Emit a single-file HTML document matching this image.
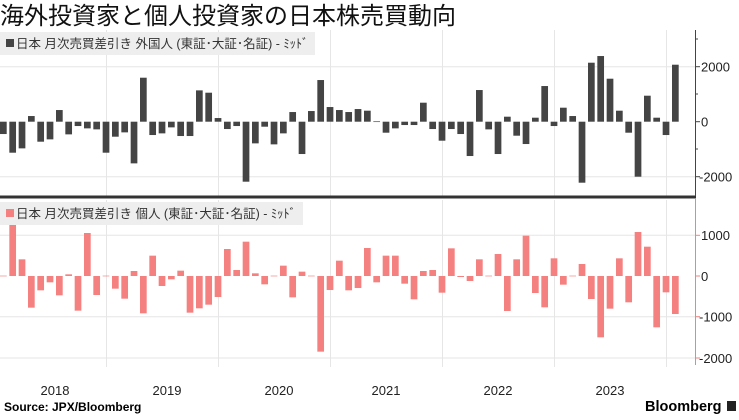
<!DOCTYPE html>
<html><head><meta charset="utf-8"><style>
body{margin:0;background:#fff;width:739px;height:415px;overflow:hidden}
svg text{font-family:"Liberation Sans","Noto Sans CJK JP",sans-serif}
</style></head><body>
<svg width="739" height="415" xmlns="http://www.w3.org/2000/svg">
<text x="0" y="24" font-size="24" fill="#111">海外投資家と個人投資家の日本株売買動向</text>
<g stroke="#e6e6e6" stroke-width="1">
<line x1="0" x2="695" y1="66.7" y2="66.7"/><line x1="0" x2="695" y1="176.7" y2="176.7"/>
<line x1="0" x2="695" y1="235.3" y2="235.3"/><line x1="0" x2="695" y1="316.7" y2="316.7"/><line x1="0" x2="695" y1="358" y2="358"/>
<line x1="106.5" x2="106.5" y1="30" y2="196"/><line x1="218.5" x2="218.5" y1="30" y2="196"/><line x1="330.5" x2="330.5" y1="30" y2="196"/><line x1="442.5" x2="442.5" y1="30" y2="196"/><line x1="554.5" x2="554.5" y1="30" y2="196"/><line x1="666.5" x2="666.5" y1="30" y2="196"/>
<line x1="106.5" x2="106.5" y1="200" y2="367"/><line x1="218.5" x2="218.5" y1="200" y2="367"/><line x1="330.5" x2="330.5" y1="200" y2="367"/><line x1="442.5" x2="442.5" y1="200" y2="367"/><line x1="554.5" x2="554.5" y1="200" y2="367"/><line x1="666.5" x2="666.5" y1="200" y2="367"/>
</g>
<rect x="0" y="32" width="315" height="23" fill="#eeeeee"/>
<rect x="6" y="39" width="8" height="8" fill="#444"/>
<text x="16" y="48" font-size="12.5" fill="#333">日本 月次売買差引き 外国人 (東証･大証･名証) - ﾐｯﾄﾞ</text>
<rect x="0" y="202" width="303" height="23" fill="#eeeeee"/>
<rect x="6" y="209" width="8" height="8" fill="#f48080"/>
<text x="16" y="218" font-size="12.5" fill="#333">日本 月次売買差引き 個人 (東証･大証･名証) - ﾐｯﾄﾞ</text>
<g fill="#444" transform="translate(0,121.7) scale(1,0.3333)">
<rect x="0" y="0" width="6.7" height="37"/>
<rect x="9.33" y="0" width="6.7" height="93"/>
<rect x="18.67" y="0" width="6.7" height="80"/>
<rect x="28" y="-17" width="6.7" height="17"/>
<rect x="37.33" y="0" width="6.7" height="60"/>
<rect x="46.67" y="0" width="6.7" height="53"/>
<rect x="56" y="-35" width="6.7" height="35"/>
<rect x="65.33" y="0" width="6.7" height="38"/>
<rect x="74.67" y="0" width="6.7" height="13"/>
<rect x="84" y="0" width="6.7" height="20"/>
<rect x="93.33" y="0" width="6.7" height="23"/>
<rect x="102.67" y="0" width="6.7" height="93"/>
<rect x="112" y="0" width="6.7" height="45"/>
<rect x="121.33" y="0" width="6.7" height="32"/>
<rect x="130.67" y="0" width="6.7" height="125"/>
<rect x="140" y="-132" width="6.7" height="132"/>
<rect x="149.33" y="0" width="6.7" height="40"/>
<rect x="158.67" y="0" width="6.7" height="35"/>
<rect x="168" y="0" width="6.7" height="17"/>
<rect x="177.33" y="0" width="6.7" height="43"/>
<rect x="186.67" y="0" width="6.7" height="43"/>
<rect x="196" y="-94" width="6.7" height="94"/>
<rect x="205.33" y="-87" width="6.7" height="87"/>
<rect x="214.67" y="-11" width="6.7" height="11"/>
<rect x="224" y="0" width="6.7" height="22"/>
<rect x="233.33" y="0" width="6.7" height="13"/>
<rect x="242.67" y="0" width="6.7" height="180"/>
<rect x="252" y="0" width="6.7" height="65"/>
<rect x="261.33" y="0" width="6.7" height="15"/>
<rect x="270.67" y="0" width="6.7" height="68"/>
<rect x="280" y="0" width="6.7" height="35"/>
<rect x="289.33" y="-29" width="6.7" height="29"/>
<rect x="298.67" y="0" width="6.7" height="97"/>
<rect x="308" y="-32" width="6.7" height="32"/>
<rect x="317.33" y="-125" width="6.7" height="125"/>
<rect x="326.67" y="-44" width="6.7" height="44"/>
<rect x="336" y="-35" width="6.7" height="35"/>
<rect x="345.33" y="-29" width="6.7" height="29"/>
<rect x="354.67" y="-38" width="6.7" height="38"/>
<rect x="364" y="-33" width="6.7" height="33"/>
<rect x="373.33" y="-1" width="6.7" height="2"/>
<rect x="382.67" y="0" width="6.7" height="33"/>
<rect x="392" y="0" width="6.7" height="20"/>
<rect x="401.33" y="0" width="6.7" height="10"/>
<rect x="410.67" y="0" width="6.7" height="10"/>
<rect x="420" y="-57" width="6.7" height="57"/>
<rect x="429.33" y="0" width="6.7" height="22"/>
<rect x="438.67" y="0" width="6.7" height="57"/>
<rect x="448" y="0" width="6.7" height="22"/>
<rect x="457.33" y="0" width="6.7" height="37"/>
<rect x="466.67" y="0" width="6.7" height="103"/>
<rect x="476" y="-95" width="6.7" height="95"/>
<rect x="485.33" y="0" width="6.7" height="23"/>
<rect x="494.67" y="0" width="6.7" height="97"/>
<rect x="504" y="-15" width="6.7" height="15"/>
<rect x="513.33" y="0" width="6.7" height="42"/>
<rect x="522.67" y="0" width="6.7" height="67"/>
<rect x="532" y="-12" width="6.7" height="12"/>
<rect x="541.33" y="-107" width="6.7" height="107"/>
<rect x="550.67" y="0" width="6.7" height="13"/>
<rect x="560" y="-42" width="6.7" height="42"/>
<rect x="569.33" y="-17" width="6.7" height="17"/>
<rect x="578.67" y="0" width="6.7" height="183"/>
<rect x="588" y="-177" width="6.7" height="177"/>
<rect x="597.33" y="-197" width="6.7" height="197"/>
<rect x="606.67" y="-129" width="6.7" height="129"/>
<rect x="616" y="-33" width="6.7" height="33"/>
<rect x="625.33" y="0" width="6.7" height="33"/>
<rect x="634.67" y="0" width="6.7" height="165"/>
<rect x="644" y="-78" width="6.7" height="78"/>
<rect x="653.33" y="-12" width="6.7" height="12"/>
<rect x="662.67" y="0" width="6.7" height="40"/>
<rect x="672" y="-171" width="6.7" height="171"/>
</g>
<g fill="#f48080" transform="translate(0,276) scale(1,0.3333)">
<rect x="0" y="-1" width="6.7" height="2"/>
<rect x="9.33" y="-153" width="6.7" height="153"/>
<rect x="18.67" y="-50" width="6.7" height="50"/>
<rect x="28" y="0" width="6.7" height="95"/>
<rect x="37.33" y="0" width="6.7" height="43"/>
<rect x="46.67" y="0" width="6.7" height="19"/>
<rect x="56" y="0" width="6.7" height="58"/>
<rect x="65.33" y="-5" width="6.7" height="5"/>
<rect x="74.67" y="0" width="6.7" height="104"/>
<rect x="84" y="-129" width="6.7" height="129"/>
<rect x="93.33" y="0" width="6.7" height="57"/>
<rect x="102.67" y="-1" width="6.7" height="2"/>
<rect x="112" y="0" width="6.7" height="38"/>
<rect x="121.33" y="0" width="6.7" height="68"/>
<rect x="130.67" y="-15" width="6.7" height="15"/>
<rect x="140" y="0" width="6.7" height="112"/>
<rect x="149.33" y="-61" width="6.7" height="61"/>
<rect x="158.67" y="0" width="6.7" height="30"/>
<rect x="168" y="0" width="6.7" height="10"/>
<rect x="177.33" y="-16" width="6.7" height="16"/>
<rect x="186.67" y="0" width="6.7" height="110"/>
<rect x="196" y="0" width="6.7" height="97"/>
<rect x="205.33" y="0" width="6.7" height="86"/>
<rect x="214.67" y="0" width="6.7" height="63"/>
<rect x="224" y="-81" width="6.7" height="81"/>
<rect x="233.33" y="-18" width="6.7" height="18"/>
<rect x="242.67" y="-103" width="6.7" height="103"/>
<rect x="252" y="-8" width="6.7" height="8"/>
<rect x="261.33" y="0" width="6.7" height="25"/>
<rect x="270.67" y="-1" width="6.7" height="2"/>
<rect x="280" y="-31" width="6.7" height="31"/>
<rect x="289.33" y="0" width="6.7" height="64"/>
<rect x="298.67" y="-13" width="6.7" height="13"/>
<rect x="308" y="-1" width="6.7" height="2"/>
<rect x="317.33" y="0" width="6.7" height="227"/>
<rect x="326.67" y="0" width="6.7" height="42"/>
<rect x="336" y="-46" width="6.7" height="46"/>
<rect x="345.33" y="0" width="6.7" height="43"/>
<rect x="354.67" y="0" width="6.7" height="36"/>
<rect x="364" y="-84" width="6.7" height="84"/>
<rect x="373.33" y="0" width="6.7" height="19"/>
<rect x="382.67" y="-61" width="6.7" height="61"/>
<rect x="392" y="-61" width="6.7" height="61"/>
<rect x="401.33" y="0" width="6.7" height="23"/>
<rect x="410.67" y="0" width="6.7" height="70"/>
<rect x="420" y="-15" width="6.7" height="15"/>
<rect x="429.33" y="-18" width="6.7" height="18"/>
<rect x="438.67" y="0" width="6.7" height="50"/>
<rect x="448" y="-83" width="6.7" height="83"/>
<rect x="457.33" y="0" width="6.7" height="3"/>
<rect x="466.67" y="0" width="6.7" height="15"/>
<rect x="476" y="-50" width="6.7" height="50"/>
<rect x="485.33" y="-1" width="6.7" height="2"/>
<rect x="494.67" y="-66" width="6.7" height="66"/>
<rect x="504" y="0" width="6.7" height="105"/>
<rect x="513.33" y="-50" width="6.7" height="50"/>
<rect x="522.67" y="-121" width="6.7" height="121"/>
<rect x="532" y="0" width="6.7" height="51"/>
<rect x="541.33" y="0" width="6.7" height="94"/>
<rect x="550.67" y="-53" width="6.7" height="53"/>
<rect x="560" y="0" width="6.7" height="26"/>
<rect x="569.33" y="-1" width="6.7" height="2"/>
<rect x="578.67" y="-36" width="6.7" height="36"/>
<rect x="588" y="0" width="6.7" height="69"/>
<rect x="597.33" y="0" width="6.7" height="184"/>
<rect x="606.67" y="0" width="6.7" height="98"/>
<rect x="616" y="-53" width="6.7" height="53"/>
<rect x="625.33" y="0" width="6.7" height="79"/>
<rect x="634.67" y="-132" width="6.7" height="132"/>
<rect x="644" y="-88" width="6.7" height="88"/>
<rect x="653.33" y="0" width="6.7" height="154"/>
<rect x="662.67" y="0" width="6.7" height="49"/>
<rect x="672" y="0" width="6.7" height="114"/>
</g>
<line x1="0" x2="696" y1="197" y2="197" stroke="#333" stroke-width="3"/>
<line x1="695.5" x2="695.5" y1="30" y2="196" stroke="#444"/>
<line x1="695.5" x2="695.5" y1="199" y2="365" stroke="#f48080"/>
<g stroke="#444"><line x1="695" x2="700" y1="66.7" y2="66.7"/><line x1="695" x2="700" y1="121.7" y2="121.7"/><line x1="695" x2="700" y1="176.7" y2="176.7"/><line x1="695" x2="698" y1="94" y2="94"/><line x1="695" x2="698" y1="149" y2="149"/><line x1="695" x2="698" y1="39" y2="39"/></g>
<g stroke="#f48080"><line x1="695" x2="700" y1="235.3" y2="235.3"/><line x1="695" x2="700" y1="276" y2="276"/><line x1="695" x2="700" y1="316.7" y2="316.7"/><line x1="695" x2="700" y1="358" y2="358"/></g>
<g font-size="13" fill="#222">
<text x="701" y="71.5">2000</text><text x="701" y="126.5">0</text><text x="699" y="181.5">-2000</text>
<text x="701" y="240">1000</text><text x="701" y="281">0</text><text x="699" y="321.5">-1000</text><text x="699" y="363">-2000</text>
</g>
<g font-size="13" fill="#222" text-anchor="middle">
<text x="55" y="395">2018</text><text x="167" y="395">2019</text><text x="279" y="395">2020</text><text x="386" y="395">2021</text><text x="498" y="395">2022</text><text x="610" y="395">2023</text>
</g>
<text x="4" y="411" font-size="12" font-weight="bold" fill="#000">Source: JPX/Bloomberg</text>
<text x="645" y="411" font-size="14.5" font-weight="bold" fill="#000">Bloomberg</text>
<rect x="727" y="401" width="9" height="10" fill="#222"/>
</svg>
</body></html>
